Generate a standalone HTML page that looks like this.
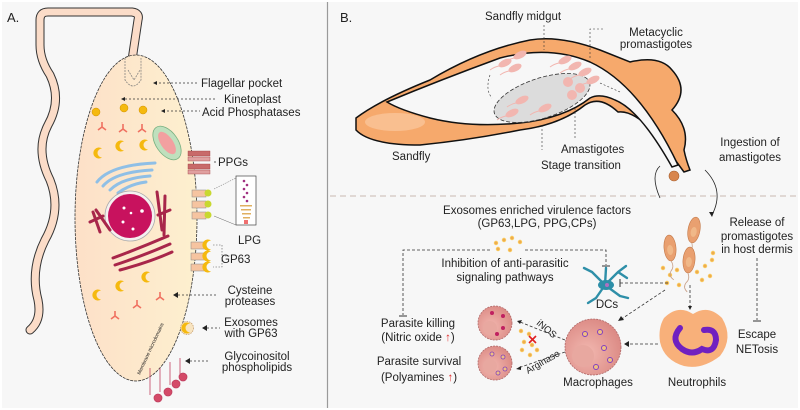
<!DOCTYPE html>
<html><head><meta charset="utf-8"><style>
html,body{margin:0;padding:0;background:#fff}
svg{display:block}
text{font-family:"Liberation Sans","DejaVu Sans",sans-serif;fill:#222}
</style></head><body>
<svg width="800" height="410" viewBox="0 0 800 410" xmlns="http://www.w3.org/2000/svg">
<defs>
<linearGradient id="cellg" x1="0" y1="0" x2="1" y2="0">
<stop offset="0" stop-color="#fde0c8"/><stop offset="1" stop-color="#fdf0cf"/></linearGradient>
<radialGradient id="mac" cx="0.4" cy="0.6" r="0.7"><stop offset="0" stop-color="#f2b8b0"/><stop offset="1" stop-color="#d98580"/></radialGradient>
<g id="cres"><path d="M3,-4.5 A5.5,5.5 0 1 0 3,4.5 A4,4 0 0 1 3,-4.5Z" fill="#f5b90f"/></g>
<g id="ys" stroke="#f07060" stroke-width="1.6" fill="none"><path d="M0,0 L0,-5 M0,0 L-4,3 M0,0 L4,3"/></g>
<g id="ex"><circle r="2.2" fill="#f7c65a"/><circle r="0.9" fill="#e8964a"/></g>
<g id="promo"><ellipse rx="6" ry="13" fill="#e9a070" stroke="#c47a4a" stroke-width="0.6"/><ellipse cy="2" rx="3" ry="5" fill="#f0b888"/><path d="M0,13 q3,6 -1,10 q-3,5 2,9" stroke="#c8a088" fill="none" stroke-width="0.8"/></g>
<g id="pinkp"><ellipse rx="7" ry="3.5" fill="#f2b6b0" transform="rotate(-25)"/><path d="M-6,3 q-5,1 -9,4" stroke="#f2b6b0" fill="none" stroke-width="1"/></g>
</defs>
<rect width="800" height="410" fill="#f7f7f7"/>
<rect x="0.5" y="0.5" width="799" height="409" fill="none" stroke="#fff" stroke-width="3"/>
<line x1="327.5" y1="2" x2="327.5" y2="408" stroke="#9a9a9a" stroke-width="1.2"/>

<text x="7" y="22" font-size="13">A.</text>
<path d="M132,60 L138,20 Q140,13 132,12 L48,12 Q40,12 40,20 L40,45 Q40,60 50,75 Q62,100 48,125 Q35,150 50,180 Q62,210 45,240 Q30,270 38,300 Q42,320 30,330" fill="none" stroke="#333" stroke-width="9" stroke-linecap="round" stroke-linejoin="round"/>
<path d="M132,60 L138,20 Q140,13 132,12 L48,12 Q40,12 40,20 L40,45 Q40,60 50,75 Q62,100 48,125 Q35,150 50,180 Q62,210 45,240 Q30,270 38,300 Q42,320 30,330" fill="none" stroke="#fbdcc8" stroke-width="7" stroke-linecap="round" stroke-linejoin="round"/>
<ellipse cx="136" cy="218" rx="61" ry="163" fill="url(#cellg)" stroke="#333" stroke-width="0.8" stroke-dasharray="3,1"/>
<path d="M125,58 L125,80 Q133,92 141,80 L141,58 M128,70 L134,80 L140,70" fill="none" stroke="#777" stroke-width="0.7" stroke-dasharray="2,1"/>
<circle cx="96" cy="112" r="4" fill="#f5b90f" stroke="#d09000" stroke-width="0.5"/>
<circle cx="124" cy="108" r="4" fill="#f5b90f" stroke="#d09000" stroke-width="0.5"/>
<circle cx="143" cy="110" r="4" fill="#f5b90f" stroke="#d09000" stroke-width="0.5"/>
<use href="#ys" x="102" y="127"/><use href="#ys" x="123" y="129"/><use href="#ys" x="142" y="129"/>
<use href="#cres" x="99" y="153"/><use href="#cres" x="121" y="146"/><use href="#cres" x="145" y="145"/>
<ellipse cx="167" cy="143" rx="11" ry="19" transform="rotate(-35 167 143)" fill="#bfe0bd" stroke="#78b080" stroke-width="0.8"/>
<ellipse cx="167" cy="143" rx="6" ry="13" transform="rotate(-35 167 143)" fill="#f2a0a0"/>
<g fill="none" stroke="#8fbfe6" stroke-width="3" stroke-linecap="round">
<path d="M97,182 Q110,165 155,163"/><path d="M103,186 Q115,172 152,170"/><path d="M110,190 Q122,178 150,176"/><path d="M118,193 Q130,184 146,182"/></g>
<circle cx="130" cy="216" r="25" fill="#f5f0f0" stroke="#aaa" stroke-width="0.8"/>
<circle cx="130" cy="216" r="22" fill="#c8125e"/>
<circle cx="124" cy="208" r="1.5" fill="#fff"/><circle cx="131" cy="213" r="1.3" fill="#fff"/><circle cx="142" cy="211" r="1.8" fill="#fff"/><circle cx="123" cy="222" r="1.5" fill="#fff"/><circle cx="133" cy="229" r="1.5" fill="#fff"/>
<g fill="none" stroke="#a8264a" stroke-width="3" stroke-linecap="round">
<path d="M93,212 L100,232 M96,210 L110,230 M90,222 L103,216"/>
<path d="M157,192 L162,230 M165,196 L164,235 M158,215 L170,210"/>
<path d="M113,258 Q140,248 168,236 M115,265 Q145,255 170,244 M120,270 Q150,262 172,252"/></g>
<use href="#cres" x="147" y="277"/><use href="#cres" x="121" y="286"/><use href="#cres" x="98" y="295"/>
<use href="#ys" x="160" y="297"/><use href="#ys" x="137" y="305"/><use href="#ys" x="115" y="316"/>
<circle cx="187" cy="328" r="6.5" fill="#f8e4c0" stroke="#c8a070" stroke-width="0.8" stroke-dasharray="1.5,1"/>
<use href="#cres" x="187" y="328"/>
<g stroke="#c04060" stroke-width="0.8" fill="#d44a68">
<line x1="150" y1="368" x2="150" y2="395"/><line x1="160" y1="368" x2="160" y2="392"/><line x1="170" y1="362" x2="170" y2="385"/><line x1="180" y1="358" x2="180" y2="378"/>
<circle cx="158" cy="398" r="4"/><circle cx="168" cy="392" r="4"/><circle cx="176" cy="384" r="4"/><circle cx="183" cy="377" r="4"/></g>
<text x="140" y="375" font-size="5" transform="rotate(-65 140 375)">Membrane microdomains</text>
<g stroke="#a04040" stroke-width="0.4"><rect x="188" y="151" width="22" height="5" fill="#c86a6a"/><rect x="188" y="157" width="22" height="4" fill="#e0a0a0"/><rect x="188" y="164" width="22" height="5" fill="#c86a6a"/><rect x="188" y="170" width="22" height="4" fill="#e0a0a0"/></g>
<g stroke="#888" stroke-width="0.5"><rect x="192" y="190" width="14" height="7" fill="#f6c4a0"/><rect x="192" y="201" width="14" height="7" fill="#f6c4a0"/><rect x="192" y="212" width="14" height="7" fill="#f6c4a0"/></g>
<circle cx="208" cy="193" r="3.5" fill="#c8d830"/><circle cx="208" cy="204" r="3.5" fill="#c8d830"/><circle cx="208" cy="215" r="3.5" fill="#c8d830"/>
<g stroke="#888" stroke-width="0.5"><rect x="191" y="242" width="14" height="7" fill="#f6c4a0"/><rect x="191" y="253" width="14" height="7" fill="#f6c4a0"/><rect x="191" y="264" width="14" height="7" fill="#f6c4a0"/></g>
<use href="#cres" x="208" y="245"/><use href="#cres" x="208" y="256"/><use href="#cres" x="208" y="267"/>
<path d="M213,245 L222,245 L222,267 L213,267 M222,256 L230,256" fill="none" stroke="#555" stroke-width="0.6" stroke-dasharray="1.5,1.5"/>
<rect x="236" y="176" width="20" height="49" fill="#fff" stroke="#444" stroke-width="0.7"/>
<line x1="214" y1="189" x2="236" y2="178" stroke="#666" stroke-width="0.5" stroke-dasharray="1.5,1"/>
<line x1="214" y1="216" x2="236" y2="225" stroke="#666" stroke-width="0.5"/>
<g fill="#a03080"><circle cx="244" cy="181" r="1.3"/><circle cx="247" cy="185" r="1.3"/><circle cx="244" cy="189" r="1.3"/><circle cx="247" cy="193" r="1.3"/><circle cx="244" cy="197" r="1.3"/><circle cx="247" cy="201" r="1.3"/></g>
<g fill="#e0b060"><rect x="240" y="205" width="12" height="1.5"/><rect x="241" y="209" width="10" height="1.5"/><rect x="242" y="213" width="9" height="1.5"/><rect x="243" y="217" width="7" height="1.5"/></g>
<rect x="244" y="220" width="4" height="4" fill="#f07070"/>
<g stroke="#333" stroke-width="0.8" stroke-dasharray="2,2" fill="none">
<line x1="155" y1="83" x2="198" y2="83"/><line x1="125" y1="99" x2="215" y2="99"/><line x1="163" y1="111" x2="200" y2="111"/>
<line x1="214" y1="162" x2="218" y2="162"/><line x1="178" y1="295" x2="218" y2="295"/><line x1="207" y1="328" x2="220" y2="328"/><line x1="190" y1="361" x2="210" y2="361"/></g>
<g fill="#222"><path d="M153,83 l4,-2 v4z"/><path d="M121,99 l4,-2 v4z"/><path d="M161,111 l4,-2 v4z"/><path d="M173,295 l5,-3 v6z"/><path d="M202,328 l5,-3 v6z"/><path d="M185,361 l5,-3 v6z"/></g>
<g font-size="11.5">
<text x="201" y="87">Flagellar pocket</text>
<text x="224" y="103">Kinetoplast</text>
<text x="202" y="116">Acid Phosphatases</text>
<text x="218" y="166">PPGs</text>
<text x="238" y="244">LPG</text>
<text x="221" y="263">GP63</text>
<text x="250" y="294" text-anchor="middle">Cysteine</text>
<text x="250" y="305" text-anchor="middle">proteases</text>
<text x="251" y="326" text-anchor="middle">Exosomes</text>
<text x="251" y="337" text-anchor="middle">with GP63</text>
<text x="257" y="360" text-anchor="middle">Glycoinositol</text>
<text x="257" y="371" text-anchor="middle">phospholipids</text>
</g>

<text x="340" y="22" font-size="13">B.</text>
<path d="M356,118 Q380,100 430,80 Q480,50 530,40 Q560,35 600,50 L630,62 Q660,55 672,70 Q690,90 672,110 Q690,128 684,150 Q686,160 690,170 L684,172 Q668,150 652,130 Q632,110 618,112 Q600,95 585,105 Q560,125 520,130 Q470,140 420,145 Q370,145 356,130 Z" fill="#f6a96c" stroke="#111" stroke-width="1.5"/>
<ellipse cx="395" cy="122" rx="30" ry="9" fill="#fbc9a0" opacity="0.7"/>
<path d="M387,102 Q440,80 500,58 Q550,45 590,62 Q640,85 678,165 L672,167 Q640,110 615,100 Q600,93 590,98 Q565,118 520,123 Q470,128 430,118 Q400,110 387,102Z" fill="#f7f7f7" stroke="#111" stroke-width="1.5"/>
<ellipse cx="542" cy="98" rx="50" ry="20" transform="rotate(-18 542 98)" fill="#dcdcdc" stroke="#333" stroke-width="0.8" stroke-dasharray="4,2"/>
<use href="#pinkp" x="520" y="55"/><use href="#pinkp" x="505" y="63"/><use href="#pinkp" x="515" y="68"/>
<use href="#pinkp" x="565" y="60"/><use href="#pinkp" x="575" y="66"/><use href="#pinkp" x="585" y="72"/><use href="#pinkp" x="593" y="80"/>
<use href="#pinkp" x="522" y="100"/><use href="#pinkp" x="545" y="108"/><use href="#pinkp" x="512" y="113"/>
<circle cx="568" cy="82" r="5" fill="#f2b6b0"/><circle cx="580" cy="88" r="5" fill="#f2b6b0"/><circle cx="572" cy="95" r="5" fill="#f2b6b0"/>
<g stroke="#333" stroke-width="0.6" stroke-dasharray="2,2" fill="none">
<line x1="544" y1="25" x2="544" y2="50"/><path d="M603,29 L590,29 L590,60"/><line x1="542" y1="125" x2="542" y2="150"/><line x1="575" y1="108" x2="575" y2="138"/>
<path d="M490,75 Q485,90 492,98"/><path d="M600,83 L620,92"/></g>
<g font-size="11.5">
<text x="485" y="20">Sandfly midgut</text>
<text x="656" y="36" text-anchor="middle">Metacyclic</text>
<text x="656" y="48" text-anchor="middle">promastigotes</text>
<text x="392" y="160">Sandfly</text>
<text x="561" y="153">Amastigotes</text>
<text x="541" y="169">Stage transition</text>
<text x="750" y="146" text-anchor="middle">Ingestion of</text>
<text x="750" y="161" text-anchor="middle">amastigotes</text>
</g>
<circle cx="674" cy="176" r="5" fill="#d8864e" stroke="#a86030" stroke-width="0.6"/>
<path d="M660,198 Q650,175 660,166" fill="none" stroke="#222" stroke-width="0.8"/>
<path d="M705,170 Q725,190 712,215" fill="none" stroke="#222" stroke-width="0.8"/>
<path d="M709,212 l3,5 l2,-5z" fill="#222"/>
<line x1="330" y1="196" x2="798" y2="196" stroke="#c8bab2" stroke-width="1" stroke-dasharray="6,4"/>

<g font-size="11.5">
<text x="537" y="214" text-anchor="middle">Exosomes enriched virulence factors</text>
<text x="537" y="227" text-anchor="middle">(GP63,LPG, PPG,CPs)</text>
<text x="505" y="267" text-anchor="middle">Inhibition of anti-parasitic</text>
<text x="505" y="281" text-anchor="middle">signaling pathways</text>
<text x="757" y="226" text-anchor="middle">Release of</text>
<text x="757" y="240" text-anchor="middle">promastigotes</text>
<text x="757" y="253" text-anchor="middle">in host dermis</text>
<text x="607" y="308" text-anchor="middle">DCs</text>
<text x="418" y="327" text-anchor="middle">Parasite killing</text>
<text x="418" y="341" text-anchor="middle">(Nitric oxide <tspan fill="#e03030">↑</tspan>)</text>
<text x="419" y="365" text-anchor="middle">Parasite survival</text>
<text x="419" y="381" text-anchor="middle">(Polyamines <tspan fill="#e03030">↑</tspan>)</text>
<text x="598" y="386" text-anchor="middle">Macrophages</text>
<text x="697" y="386" text-anchor="middle">Neutrophils</text>
<text x="757" y="338" text-anchor="middle">Escape</text>
<text x="757" y="353" text-anchor="middle">NETosis</text>
<text x="536" y="324" font-size="9.5" transform="rotate(40 536 324)">iNOS</text>
<text x="528" y="374" font-size="9.5" transform="rotate(-30 528 374)">Arginase</text>
</g>
<use href="#ex" x="496" y="243"/><use href="#ex" x="504" y="240"/><use href="#ex" x="512" y="238"/><use href="#ex" x="520" y="242"/><use href="#ex" x="498" y="249"/><use href="#ex" x="510" y="250"/>
<use href="#ex" x="521" y="331"/><use href="#ex" x="529" y="334"/><use href="#ex" x="524" y="342"/><use href="#ex" x="532" y="345"/><use href="#ex" x="522" y="350"/><use href="#ex" x="530" y="355"/><use href="#ex" x="537" y="350"/>
<g><use href="#ex" x="663" y="268"/><use href="#ex" x="670" y="275"/><use href="#ex" x="677" y="270"/><use href="#ex" x="667" y="283"/><use href="#ex" x="679" y="285"/><use href="#ex" x="697" y="272"/><use href="#ex" x="705" y="266"/><use href="#ex" x="712" y="260"/><use href="#ex" x="702" y="280"/><use href="#ex" x="710" y="276"/><use href="#ex" x="713" y="253"/></g>
<use href="#promo" x="694" y="230" transform="rotate(10 694 230)"/>
<use href="#promo" x="670" y="248" transform="rotate(-5 670 248)"/>
<use href="#promo" x="689" y="260" transform="rotate(5 689 260)"/>
<g stroke="#2e8fa8" stroke-width="2.4" fill="none" stroke-linecap="round">
<path d="M605,285 L592,272 M605,285 L596,298 M605,285 L620,296 M605,285 L618,272 L626,266 M618,272 L627,278 M592,272 L584,268 M596,298 L588,303 M620,296 L628,298 M605,285 L606,268"/></g>
<ellipse cx="606" cy="285" rx="8" ry="5" fill="#2e8fa8"/><circle cx="607" cy="285" r="2" fill="#b070c0"/>
<circle cx="593" cy="347" r="28" fill="url(#mac)" stroke="#b06868" stroke-width="0.8" stroke-dasharray="2,1"/>
<circle cx="583" cy="356" r="11" fill="#e8a8a0"/>
<g fill="#f0c080" stroke="#8040c0" stroke-width="1"><circle cx="585" cy="334" r="2.5"/><circle cx="600" cy="332" r="2.5"/><circle cx="604" cy="348" r="2.5"/><circle cx="610" cy="360" r="2.5"/><circle cx="596" cy="367" r="2.5"/></g>
<circle cx="495" cy="323" r="17" fill="url(#mac)" stroke="#b06868" stroke-width="0.8" stroke-dasharray="2,1"/>
<circle cx="490" cy="328" r="7" fill="#e8a8a0"/>
<g fill="#c02060"><circle cx="492" cy="313" r="2"/><circle cx="503" cy="316" r="2"/><circle cx="503" cy="328" r="2"/><circle cx="497" cy="334" r="2"/></g>
<circle cx="495" cy="363" r="17" fill="url(#mac)" stroke="#b06868" stroke-width="0.8" stroke-dasharray="2,1"/>
<circle cx="490" cy="366" r="7" fill="#e8a8a0"/>
<g fill="#f0c080" stroke="#8040c0" stroke-width="0.8"><circle cx="492" cy="354" r="2"/><circle cx="503" cy="357" r="2"/><circle cx="505" cy="369" r="2"/><circle cx="498" cy="373" r="2"/></g>
<path d="M664,318 Q678,304 693,314 Q708,304 722,318 Q734,338 720,356 Q702,370 684,366 Q664,360 660,342 Q658,328 664,318Z" fill="#f8b07a"/>
<path d="M680,328 Q670,340 682,349 Q692,356 702,349 Q714,354 716,340 Q716,328 704,330" fill="none" stroke="#7020c0" stroke-width="6" stroke-linecap="round"/>
<g stroke="#333" stroke-width="0.8" stroke-dasharray="3,2" fill="none">
<path d="M490,250 L403,250 L403,315"/><path d="M525,250 L606,250 L606,265"/>
<line x1="620" y1="283" x2="668" y2="283"/><line x1="665" y1="290" x2="620" y2="320"/>
<line x1="690" y1="285" x2="690" y2="306"/><line x1="658" y1="344" x2="626" y2="344"/>
<line x1="757" y1="258" x2="757" y2="320"/>
<line x1="565" y1="340" x2="520" y2="322"/><line x1="565" y1="352" x2="518" y2="368"/></g>
<g stroke="#333" stroke-width="1"><line x1="399" y1="316" x2="407" y2="316"/><line x1="602" y1="266" x2="610" y2="266"/><line x1="620" y1="279" x2="620" y2="287"/><line x1="753" y1="321" x2="761" y2="321"/></g>
<g fill="#222"><path d="M618,321 l6,-1 l-3,-4z"/><path d="M690,310 l-2,-4 h4z"/><path d="M624,344 l5,-3 v6z"/><path d="M517,321 l5,-1 l-2,4z"/><path d="M516,369 l5,-3 l0,4z"/></g>
<path d="M529,336 l7,7 M536,336 l-7,7" stroke="#e02020" stroke-width="1.6"/>
</svg>
</body></html>
